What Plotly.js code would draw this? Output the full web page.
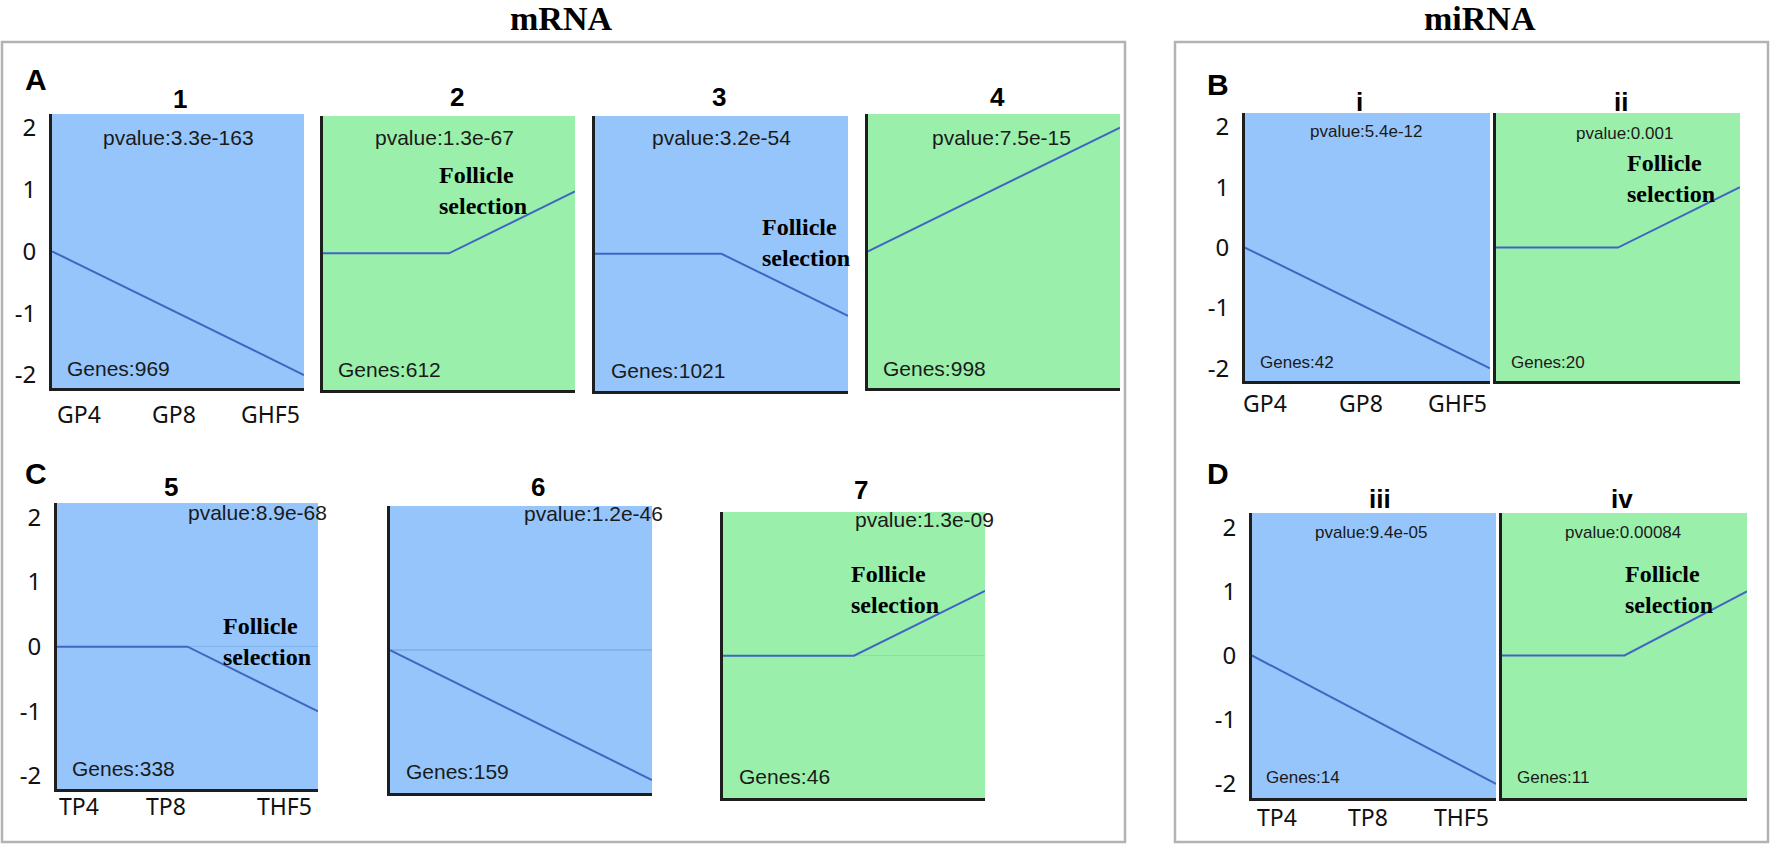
<!DOCTYPE html>
<html><head><meta charset="utf-8">
<script src="https://cdn.plot.ly/plotly-3.0.1.min.js"></script>
<style>html,body{margin:0;padding:0;background:#fff}#chart{width:1772px;height:844px}</style>
</head><body><div id="chart"></div>
<script>
// ---------------- data ----------------
const stagesGranulosa = ['GP4', 'GP8', 'GHF5'];
const stagesTheca = ['TP4', 'TP8', 'THF5'];
const panelIds = ['1', '2', '3', '4', '5', '6', '7', 'i', 'ii', 'iii', 'iv'];
const profile1 = [0, -1, -2];
const profile2 = [0, 0, 1];
const profile3 = [0, 0, -1];
const profile4 = [0, 1, 2];
const profile5 = [0, 0, -1];
const profile6 = [0, -1, -2];
const profile7 = [0, 0, 1];
const profileI = [0, -1, -2];
const profileII = [0, 0, 1];
const profileIII = [0, -1, -2];
const profileIV = [0, 0, 1];
const pvalueLabels = ['pvalue:3.3e-163', 'pvalue:1.3e-67', 'pvalue:3.2e-54', 'pvalue:7.5e-15',
  'pvalue:8.9e-68', 'pvalue:1.2e-46', 'pvalue:1.3e-09',
  'pvalue:5.4e-12', 'pvalue:0.001', 'pvalue:9.4e-05', 'pvalue:0.00084'];
const geneCounts = [969, 612, 1021, 998, 338, 159, 46, 42, 20, 14, 11];
const trendClass = ['down', 'up', 'down', 'up', 'down', 'down', 'up', 'down', 'up', 'down', 'up'];
const selectionMarked = [false, true, true, false, true, false, true, false, true, false, true];
const yTickVals = [-2, -1, 0, 1, 2];
const yTickText = ['-2', '-1', '0', '1', '2'];
const groupTitles = ['mRNA', 'miRNA'];
const sectionLetters = ['A', 'B', 'C', 'D'];
const selectionLabel = 'Follicle<br>selection';

const profiles = [profile1, profile2, profile3, profile4, profile5, profile6, profile7,
  profileI, profileII, profileIII, profileIV];

// ---------------- layout geometry (pixels) ----------------
const W = 1772, H = 844;
const px = v => v / W;
const py = v => 1 - v / H;
const rangeA = [-2.21, 2.22], rangeC = [-2.2, 2.22], rangeB = [-2.21, 2.23], rangeD = [-2.22, 2.22];
const geo = [
  {x:[52,304],  y:[114,388], r:rangeA, t:[180,99],  pv:[178,137], gn:[65,368],  fs:[437,191], yt:true,  st:stagesGranulosa, xly:414, sh:[3,-4,-2], small:false, zl:false},
  {x:[323,575], y:[116,390], r:rangeA, t:[457,97],  pv:[445,138], gn:[336,370], fs:[437,191], yt:false, small:false, zl:false},
  {x:[595,848], y:[116,391], r:rangeA, t:[719,97],  pv:[721,138], gn:[609,371], fs:[760,243], yt:false, small:false, zl:false},
  {x:[868,1120],y:[114,388], r:rangeA, t:[997,97],  pv:[1001,137],gn:[881,368], fs:null,      yt:false, small:false, zl:false},
  {x:[57,318],  y:[503,789], r:rangeC, t:[171,487], pv:[257,512], gn:[70,768],  fs:[221,641], yt:true,  st:stagesTheca, xly:806, sh:[0,-22,-4], small:false, zl:true},
  {x:[390,652], y:[506,793], r:rangeC, t:[538,487], pv:[593,513], gn:[404,771], fs:null,      yt:false, small:false, zl:true},
  {x:[723,985], y:[512,798], r:rangeC, t:[861,490], pv:[925,519], gn:[737,776], fs:[849,589], yt:false, small:false, zl:true},
  {x:[1245,1490],y:[113,381],r:rangeB, t:[1359,102],pv:[1366,132],gn:[1258,362],fs:null,      yt:true,  st:stagesGranulosa, xly:403, sh:[-4,-7,-1], small:true, zl:false},
  {x:[1496,1740],y:[113,381],r:rangeB, t:[1621,102],pv:[1624,133],gn:[1509,362],fs:[1625,178], yt:false, small:true, zl:false},
  {x:[1252,1496],y:[513,798],r:rangeD, t:[1380,499],pv:[1371,532],gn:[1264,777],fs:null,      yt:true,  st:stagesTheca, xly:817, sh:[3,-6,-5], small:true, zl:false},
  {x:[1502,1747],y:[513,798],r:rangeD, t:[1622,499],pv:[1623,532],gn:[1515,777],fs:[1623,589], yt:false, small:true, zl:false}
];
const fillColor = {down: '#95c5fb', up: '#9aefab'};
const zeroColor = {down: '#82b4ec', up: '#8edf9f'};

const SANS = 'Liberation Sans, Arial, sans-serif';
const SERIF = 'Liberation Serif, Times New Roman, serif';
const TICKF = 'Noto Sans, Arial, sans-serif';

const traces = [];
const layout = {
  width: W, height: H,
  margin: {l: 0, r: 0, t: 0, b: 0},
  paper_bgcolor: '#ffffff',
  plot_bgcolor: 'rgba(0,0,0,0)',
  showlegend: false,
  hovermode: false,
  shapes: [],
  annotations: []
};

// outer group boxes
layout.shapes.push({type:'rect', xref:'paper', yref:'paper', x0:px(2), x1:px(1125), y0:py(842), y1:py(42),
  line:{color:'#b3b3b3', width:2.5}, fillcolor:'rgba(0,0,0,0)'});
layout.shapes.push({type:'rect', xref:'paper', yref:'paper', x0:px(1175), x1:px(1768), y0:py(842), y1:py(42),
  line:{color:'#b3b3b3', width:2.5}, fillcolor:'rgba(0,0,0,0)'});

// group titles
const groupPos = [[561, 19], [1480, 19]];
groupTitles.forEach((g, i) => {
  layout.annotations.push({xref:'paper', yref:'paper', x:px(groupPos[i][0]), y:py(groupPos[i][1]),
    xanchor:'center', yanchor:'middle', showarrow:false, borderpad:0, text:'<b>' + g + '</b>',
    font:{family:SERIF, size:34, color:'#000'}});
});
// section letters
const letterPos = [[36, 80], [1218, 84], [36, 473], [1218, 473]];
sectionLetters.forEach((s, i) => {
  layout.annotations.push({xref:'paper', yref:'paper', x:px(letterPos[i][0]), y:py(letterPos[i][1]),
    xanchor:'center', yanchor:'middle', showarrow:false, text:'<b>' + s + '</b>',
    font:{family:SANS, size:30, color:'#000'}});
});

panelIds.forEach((id, k) => {
  const g = geo[k];
  const n = k === 0 ? '' : String(k + 1);
  const xa = 'x' + n, ya = 'y' + n;
  const cls = trendClass[k];
  layout['xaxis' + n] = {
    domain: [px(g.x[0]), px(g.x[1])], anchor: ya, range: [0, 2],
    showgrid: false, zeroline: false, showticklabels: false, ticks: '',
    showline: true, linecolor: '#1e1e1e', linewidth: 3, fixedrange: true
  };
  layout['yaxis' + n] = {
    domain: [py(g.y[1]), py(g.y[0])], anchor: xa, range: g.r,
    showgrid: false, ticks: '', tickmode: 'array', tickvals: yTickVals, ticktext: yTickText,
    showticklabels: g.yt, ticklabelstandoff: 8,
    tickfont: {family: TICKF, size: 24, color: '#111'},
    zeroline: g.zl, zerolinecolor: zeroColor[cls], zerolinewidth: 1.5,
    showline: true, linecolor: '#1e1e1e', linewidth: 3, fixedrange: true
  };
  // panel background
  layout.shapes.push({type:'rect', xref: xa + ' domain', yref: ya + ' domain', x0:0, x1:1, y0:0, y1:1,
    fillcolor: fillColor[cls], line:{width:0}, layer:'below'});
  // profile line
  const stageNames = (k < 4 || k === 7 || k === 8) ? stagesGranulosa : stagesTheca;
  traces.push({
    type: 'scatter', mode: 'lines', xaxis: xa, yaxis: ya,
    x: stageNames.map((_, i) => i), y: profiles[k], text: stageNames,
    line: {color: '#4066c2', width: 2}, cliponaxis: false
  });
  // panel title
  layout.annotations.push({xref:'paper', yref:'paper', x:px(g.t[0]), y:py(g.t[1]),
    xanchor:'center', yanchor:'middle', showarrow:false, text:'<b>' + id + '</b>',
    font:{family:SANS, size:26, color:'#000'}});
  const fsz = g.small ? 17 : 21;
  layout.annotations.push({xref:'paper', yref:'paper', x:px(g.pv[0]), y:py(g.pv[1]),
    xanchor:'center', yanchor:'middle', showarrow:false, text: pvalueLabels[k],
    font:{family:SANS, size:fsz, color:'#1a1a1a'}});
  layout.annotations.push({xref:'paper', yref:'paper', x:px(g.gn[0]), y:py(g.gn[1]),
    xanchor:'left', yanchor:'middle', showarrow:false, text: 'Genes:' + geneCounts[k],
    font:{family:SANS, size:fsz, color:'#1a1a1a'}});
  if (selectionMarked[k] && g.fs) {
    layout.annotations.push({xref:'paper', yref:'paper', x:px(g.fs[0]), y:py(g.fs[1]),
      xanchor:'left', yanchor:'middle', align:'left', showarrow:false,
      text:'<b>' + selectionLabel + '</b>',
      font:{family:SERIF, size:24, color:'#000'}});
  }
  // stage tick labels under the first panel of each row
  if (g.st) {
    const anchors = ['left', 'center', 'right'];
    g.st.forEach((s, i) => {
      layout.annotations.push({xref: xa, yref:'paper', x: i, y: py(g.xly),
        xanchor: anchors[i], yanchor:'middle', xshift: g.sh[i], showarrow:false, text: s,
        font:{family:TICKF, size:23, color:'#111'}});
    });
  }
});

Plotly.newPlot('chart', traces, layout, {staticPlot: true, displayModeBar: false});
</script>
</body></html>
